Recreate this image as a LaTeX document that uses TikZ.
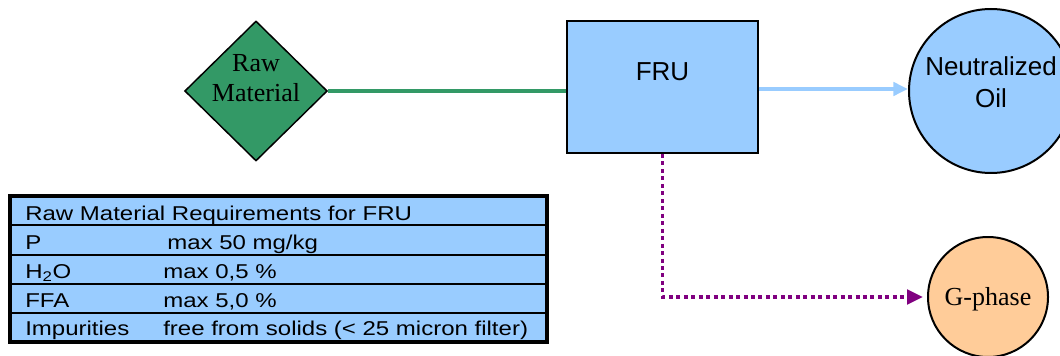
\documentclass[tikz,border=0pt]{standalone}
\usepackage{fontspec}
\setmainfont{Liberation Serif}
\setsansfont{Liberation Sans}
\newfontfamily\widesans[FakeStretch=1.2]{Liberation Sans}
\usepackage{color}
\usetikzlibrary{shapes.geometric,arrows.meta}

\definecolor{rawgreen}{RGB}{51,153,102}
\definecolor{frublue}{RGB}{153,204,255}
\definecolor{gorange}{RGB}{255,204,153}
\definecolor{gpurple}{RGB}{128,0,128}

\newcommand{\bigfont}{\fontsize{19.5}{22.5}\selectfont}
\newcommand{\tabfont}{\widesans\fontsize{15}{17}\selectfont}

\begin{document}
\begin{tikzpicture}[x=0.75pt,y=-0.75pt,
	unit/.style={draw=black,line width=1.5pt,inner sep=0pt},
	txt/.style={inner sep=0pt,align=center},
	cell/.style={anchor=base west,inner sep=0pt,font=\tabfont}]
	\useasboundingbox (0,0) rectangle (1060,356);
	\clip (0,0) rectangle (1060,356);

	% feed, separator unit and the two outlets
	\node[unit,diamond,fill=rawgreen,line width=1.1pt,minimum width=107pt,minimum height=105pt] (raw) at (256,91) {};
	\node[txt,font=\bigfont] (rawtxt) at ([yshift=9.5pt]raw.center) {Raw\\Material};
	\node[unit,rectangle,fill=frublue,minimum width=143pt,minimum height=99pt] (fru) at (662.5,87) {};
	\node[txt,font=\bigfont\sffamily] (frutxt) at ([yshift=11.5pt]fru.center) {FRU};
	\node[unit,circle,fill=frublue,minimum size=123pt] (oil) at (991,91) {};
	\node[txt,font=\sffamily\fontsize{19.5}{23.5}\selectfont] (oiltxt) at ([yshift=6.5pt]oil.center) {Neutralized\\Oil};
	\node[unit,circle,fill=gorange,minimum size=90pt] (gphase) at (988,297) {};
	\node[txt,font=\bigfont] (gtxt) at ([yshift=-2pt]gphase.center) {G-phase};

	% streams
	\draw[color=rawgreen,line width=2.6pt] (raw.east) -- (raw.east -| fru.west);
	\draw[color=frublue,line width=2.6pt,-{Triangle[length=11pt,width=10pt]}] (fru.east |- 0,89) -- (oil.west |- 0,89);
	\draw[color=gpurple,line width=2.6pt,dash pattern=on 3pt off 2.6pt,-{Triangle[length=12pt,width=11pt]},shorten >=3pt] (fru.south) |- (gphase.west);

	% requirements table
	\filldraw[fill=frublue,draw=black,line width=2.4pt] (10,196) rectangle (547,342);
	\foreach \y in {225,255,284,313}
		\draw[line width=1.6pt] (10,\y) -- (547,\y);
	\node[cell] (head) at (25,220) {Raw Material Requirements for FRU};
	\node[cell] (pname) at (25,249) {P};
	\node[cell] (pval) at (167,249) {max 50 mg/kg};
	\node[cell] (wname) at (25,278) {H\textsubscript{2}O};
	\node[cell] (wval) at (163,278) {max 0,5 \%};
	\node[cell] (fname) at (25,307) {FFA};
	\node[cell] (fval) at (163,307) {max 5,0 \%};
	\node[cell] (iname) at (25,335) {Impurities};
	\node[cell] (ival) at (163,335) {free from solids (< 25 micron filter)};
	%\node[cell] at (163,335) {free from solids};
\end{tikzpicture}
\end{document}
